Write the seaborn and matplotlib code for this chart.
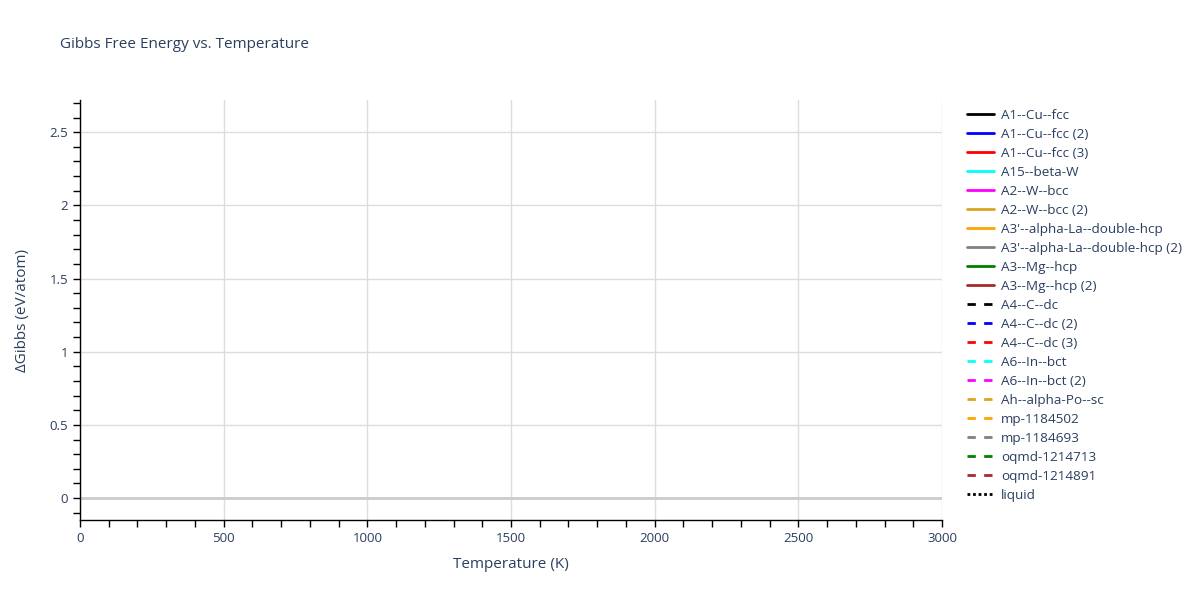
import numpy as np
import pandas as pd
import seaborn as sns
import matplotlib.pyplot as plt
from matplotlib.ticker import MultipleLocator

# phases in the legend; none of the traces has points inside the visible range
solid_names = ['A1--Cu--fcc', 'A1--Cu--fcc (2)', 'A1--Cu--fcc (3)', 'A15--beta-W',
               'A2--W--bcc', 'A2--W--bcc (2)', "A3'--alpha-La--double-hcp",
               "A3'--alpha-La--double-hcp (2)", 'A3--Mg--hcp', 'A3--Mg--hcp (2)']
dash_names = ['A4--C--dc', 'A4--C--dc (2)', 'A4--C--dc (3)', 'A6--In--bct',
              'A6--In--bct (2)', 'Ah--alpha-Po--sc', 'mp-1184502', 'mp-1184693',
              'oqmd-1214713', 'oqmd-1214891']
liquid_name = 'liquid'
colors = ['black', 'blue', 'red', 'cyan', 'magenta', 'goldenrod', 'orange',
          'gray', 'green', 'brown']
temperature = []   # K
gibbs = []         # eV/atom

sns.set_style('white')
plt.rcParams['font.family'] = ['Open Sans', 'DejaVu Sans']
txt = '#2a3f5f'

fig = plt.figure(figsize=(12, 6), dpi=100)
ax = fig.add_axes([80/1200, 80/600, 862/1200, 420/600])

for name, c in zip(solid_names, colors):
    ax.plot(temperature, gibbs, color=c, lw=2, ls='-', label=name)
for name, c in zip(dash_names, colors):
    ax.plot(temperature, gibbs, color=c, lw=2, ls=(0, (3, 3)), label=name)
ax.plot(temperature, gibbs, color='black', lw=2, ls=(0, (1, 1)), label=liquid_name)

ax.set_xlim(0, 3000)
ax.set_ylim(-0.15, 2.72)
ax.xaxis.set_major_locator(MultipleLocator(500))
ax.xaxis.set_minor_locator(MultipleLocator(100))
ax.yaxis.set_major_locator(MultipleLocator(0.5))
ax.yaxis.set_minor_locator(MultipleLocator(0.1))
ax.set_yticks([0, 0.5, 1, 1.5, 2, 2.5])
ax.set_yticklabels(['0', '0.5', '1', '1.5', '2', '2.5'])

ax.grid(True, which='major', color='#dddddd', lw=1)
ax.axhline(0, color='#cccccc', lw=2, zorder=1)
for s in ['top', 'right']:
    ax.spines[s].set_visible(False)
for s in ['left', 'bottom']:
    ax.spines[s].set_color('black')
    ax.spines[s].set_linewidth(1)
ax.tick_params(which='both', direction='out', color='black', labelcolor=txt, labelsize=9.5)
ax.tick_params(which='major', length=5, width=1)
ax.tick_params(which='minor', length=5, width=1, left=True, bottom=True)
ax.tick_params(axis='x', which='both', bottom=True)
ax.tick_params(axis='y', which='both', left=True)

ax.set_xlabel('Temperature (K)', fontsize=11, color=txt, labelpad=9)
ax.set_ylabel('ΔGibbs (eV/atom)', fontsize=11, color=txt, labelpad=14)
fig.text(60/1200, 1 - 45/600, 'Gibbs Free Energy vs. Temperature', fontsize=11,
         color=txt, va='center', ha='left')

leg = ax.legend(loc='upper left', bbox_to_anchor=(955/1200, 1 - 97/600),
                bbox_transform=fig.transFigure, frameon=False, fontsize=9.7,
                handlelength=2.0, handletextpad=0.5, labelspacing=0.445)
for t in leg.get_texts():
    t.set_color(txt)

fig.savefig('out.png', dpi=100)
